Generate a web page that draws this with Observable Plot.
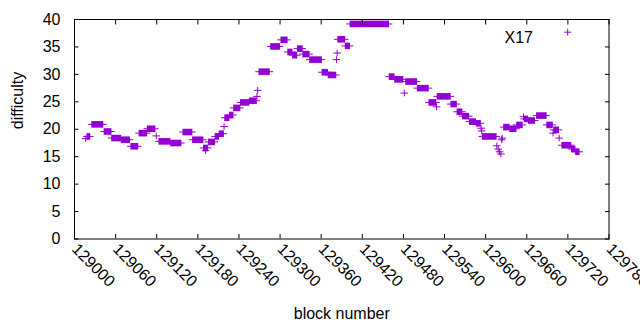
<!DOCTYPE html>
<html>
<head>
<meta charset="utf-8">
<script src="https://cdn.jsdelivr.net/npm/d3@7"></script>
<script src="https://cdn.jsdelivr.net/npm/@observablehq/plot@0.6"></script>
<style>
  html, body { margin: 0; padding: 0; background: #fff; }
  #chart svg { display: block; }
</style>
</head>
<body>
<div id="chart"></div>
<script>
// Runs of consecutive blocks sharing the same difficulty
const runStart = [129017,129019,129026,129044,129055,129069,129083,129095,129107,129120,129124,129141,129159,129173,129189,129192,129196,129206,129212,129219,129220,129227,129233,129243,129256,129267,129268,129270,129287,129302,129312,129319,129326,129334,129344,129362,129371,129383,129384,129385,129396,129403,129460,129468,129482,129484,129501,129518,129529,129530,129550,129559,129567,129577,129587,129594,129595,129596,129617,129619,129621,129623,129624,129625,129627,129636,129646,129656,129657,129663,129675,129690,129699,129700,129708,129712,129726,129732];
const runEnd   = [129017,129023,129042,129054,129068,129081,129093,129106,129118,129120,129140,129156,129172,129188,129195,129192,129205,129211,129218,129219,129226,129232,129242,129255,129266,129267,129268,129285,129300,129311,129318,129325,129333,129343,129361,129370,129382,129383,129384,129395,129402,129459,129467,129480,129482,129500,129517,129528,129529,129549,129558,129566,129576,129586,129593,129594,129595,129616,129617,129619,129621,129623,129624,129625,129635,129645,129654,129656,129662,129672,129689,129698,129699,129707,129708,129725,129731,129737];
const runValue = [18.2,18.6,20.8,19.5,18.3,18.0,16.8,19.2,20.0,18.7,17.7,17.4,19.4,18.0,16.5,16.0,17.6,18.6,19.1,20.4,22.0,22.5,23.8,24.8,25.1,25.9,27.0,30.4,35.0,36.2,34.0,33.4,34.6,33.6,32.6,30.3,29.8,32.6,33.8,36.3,35.1,39.1,29.5,29.0,26.5,28.6,27.4,24.8,24.0,25.9,24.5,23.1,22.3,21.3,21.0,20.1,19.6,18.6,16.9,16.3,15.8,15.4,18.0,18.3,20.3,20.0,20.7,22.2,21.8,21.5,22.4,20.7,19.2,19.8,18.3,17.0,16.3,15.8];

const xTicks = [129000,129060,129120,129180,129240,129300,129360,129420,129480,129540,129600,129660,129720,129780];
const yTicks = [0,5,10,15,20,25,30,35,40];
const seriesName = "X17";
const xLabel = "block number";
const yLabel = "difficulty";

const runs = runStart.map((s, i) => ({start: s, end: runEnd[i], value: runValue[i]}));
const color = "#9400d3";

const thinPlus = {
  draw(context, size) {
    const r = Math.sqrt(size / Math.PI);
    context.moveTo(-r, 0); context.lineTo(r, 0);
    context.moveTo(0, -r); context.lineTo(0, r);
  }
};

const chart = Plot.plot({
  width: 640,
  height: 330,
  marginLeft: 74,
  marginRight: 31.5,
  marginTop: 19,
  marginBottom: 91.5,
  style: {fontFamily: "'Liberation Sans', Arial, sans-serif", fontSize: "16px", color: "#000", background: "#fff"},
  x: {domain: [129000, 129780]},
  y: {domain: [0, 40]},
  marks: [
    Plot.rect(runs, {x1: "start", x2: "end", y1: "value", y2: "value", fill: color,
      insetLeft: -0.5, insetRight: -0.5, insetTop: -3.3, insetBottom: -3.3}),
    Plot.rect(runs, {x1: "start", x2: "end", y1: "value", y2: "value", fill: color,
      insetLeft: -3.8, insetRight: -3.8, insetTop: -0.5, insetBottom: -0.5}),
    Plot.axisX({anchor: "bottom", ticks: xTicks, tickSize: -4.5, tickPadding: 12, tickRotate: 45,
      tickFormat: d => String(d), label: null, fill: "#000"}),
    Plot.axisX({anchor: "top", ticks: xTicks, tickSize: -4.5, tickFormat: () => "", label: null}),
    Plot.axisY({anchor: "left", ticks: yTicks, tickSize: -4.5, tickPadding: 18.5, label: null, fill: "#000"}),
    Plot.axisY({anchor: "right", ticks: yTicks, tickSize: -4.5, tickFormat: () => "", label: null}),
    Plot.frame({stroke: "#000"}),
    Plot.text([xLabel], {frameAnchor: "bottom", dy: 80, fill: "#000"}),
    Plot.text([yLabel], {frameAnchor: "left", dx: -57, rotate: -90, fill: "#000"}),
    Plot.text([seriesName], {frameAnchor: "top-right", textAnchor: "end", dx: -76, dy: 12.5, fill: "#000"}),
    Plot.dot([seriesName], {x: null, y: null, frameAnchor: "top-right", dx: -41.3, dy: 12.7,
      symbol: thinPlus, r: 3.5, fill: "none", stroke: color, strokeWidth: 1})
  ]
});
document.getElementById("chart").appendChild(chart);
</script>
</body>
</html>
